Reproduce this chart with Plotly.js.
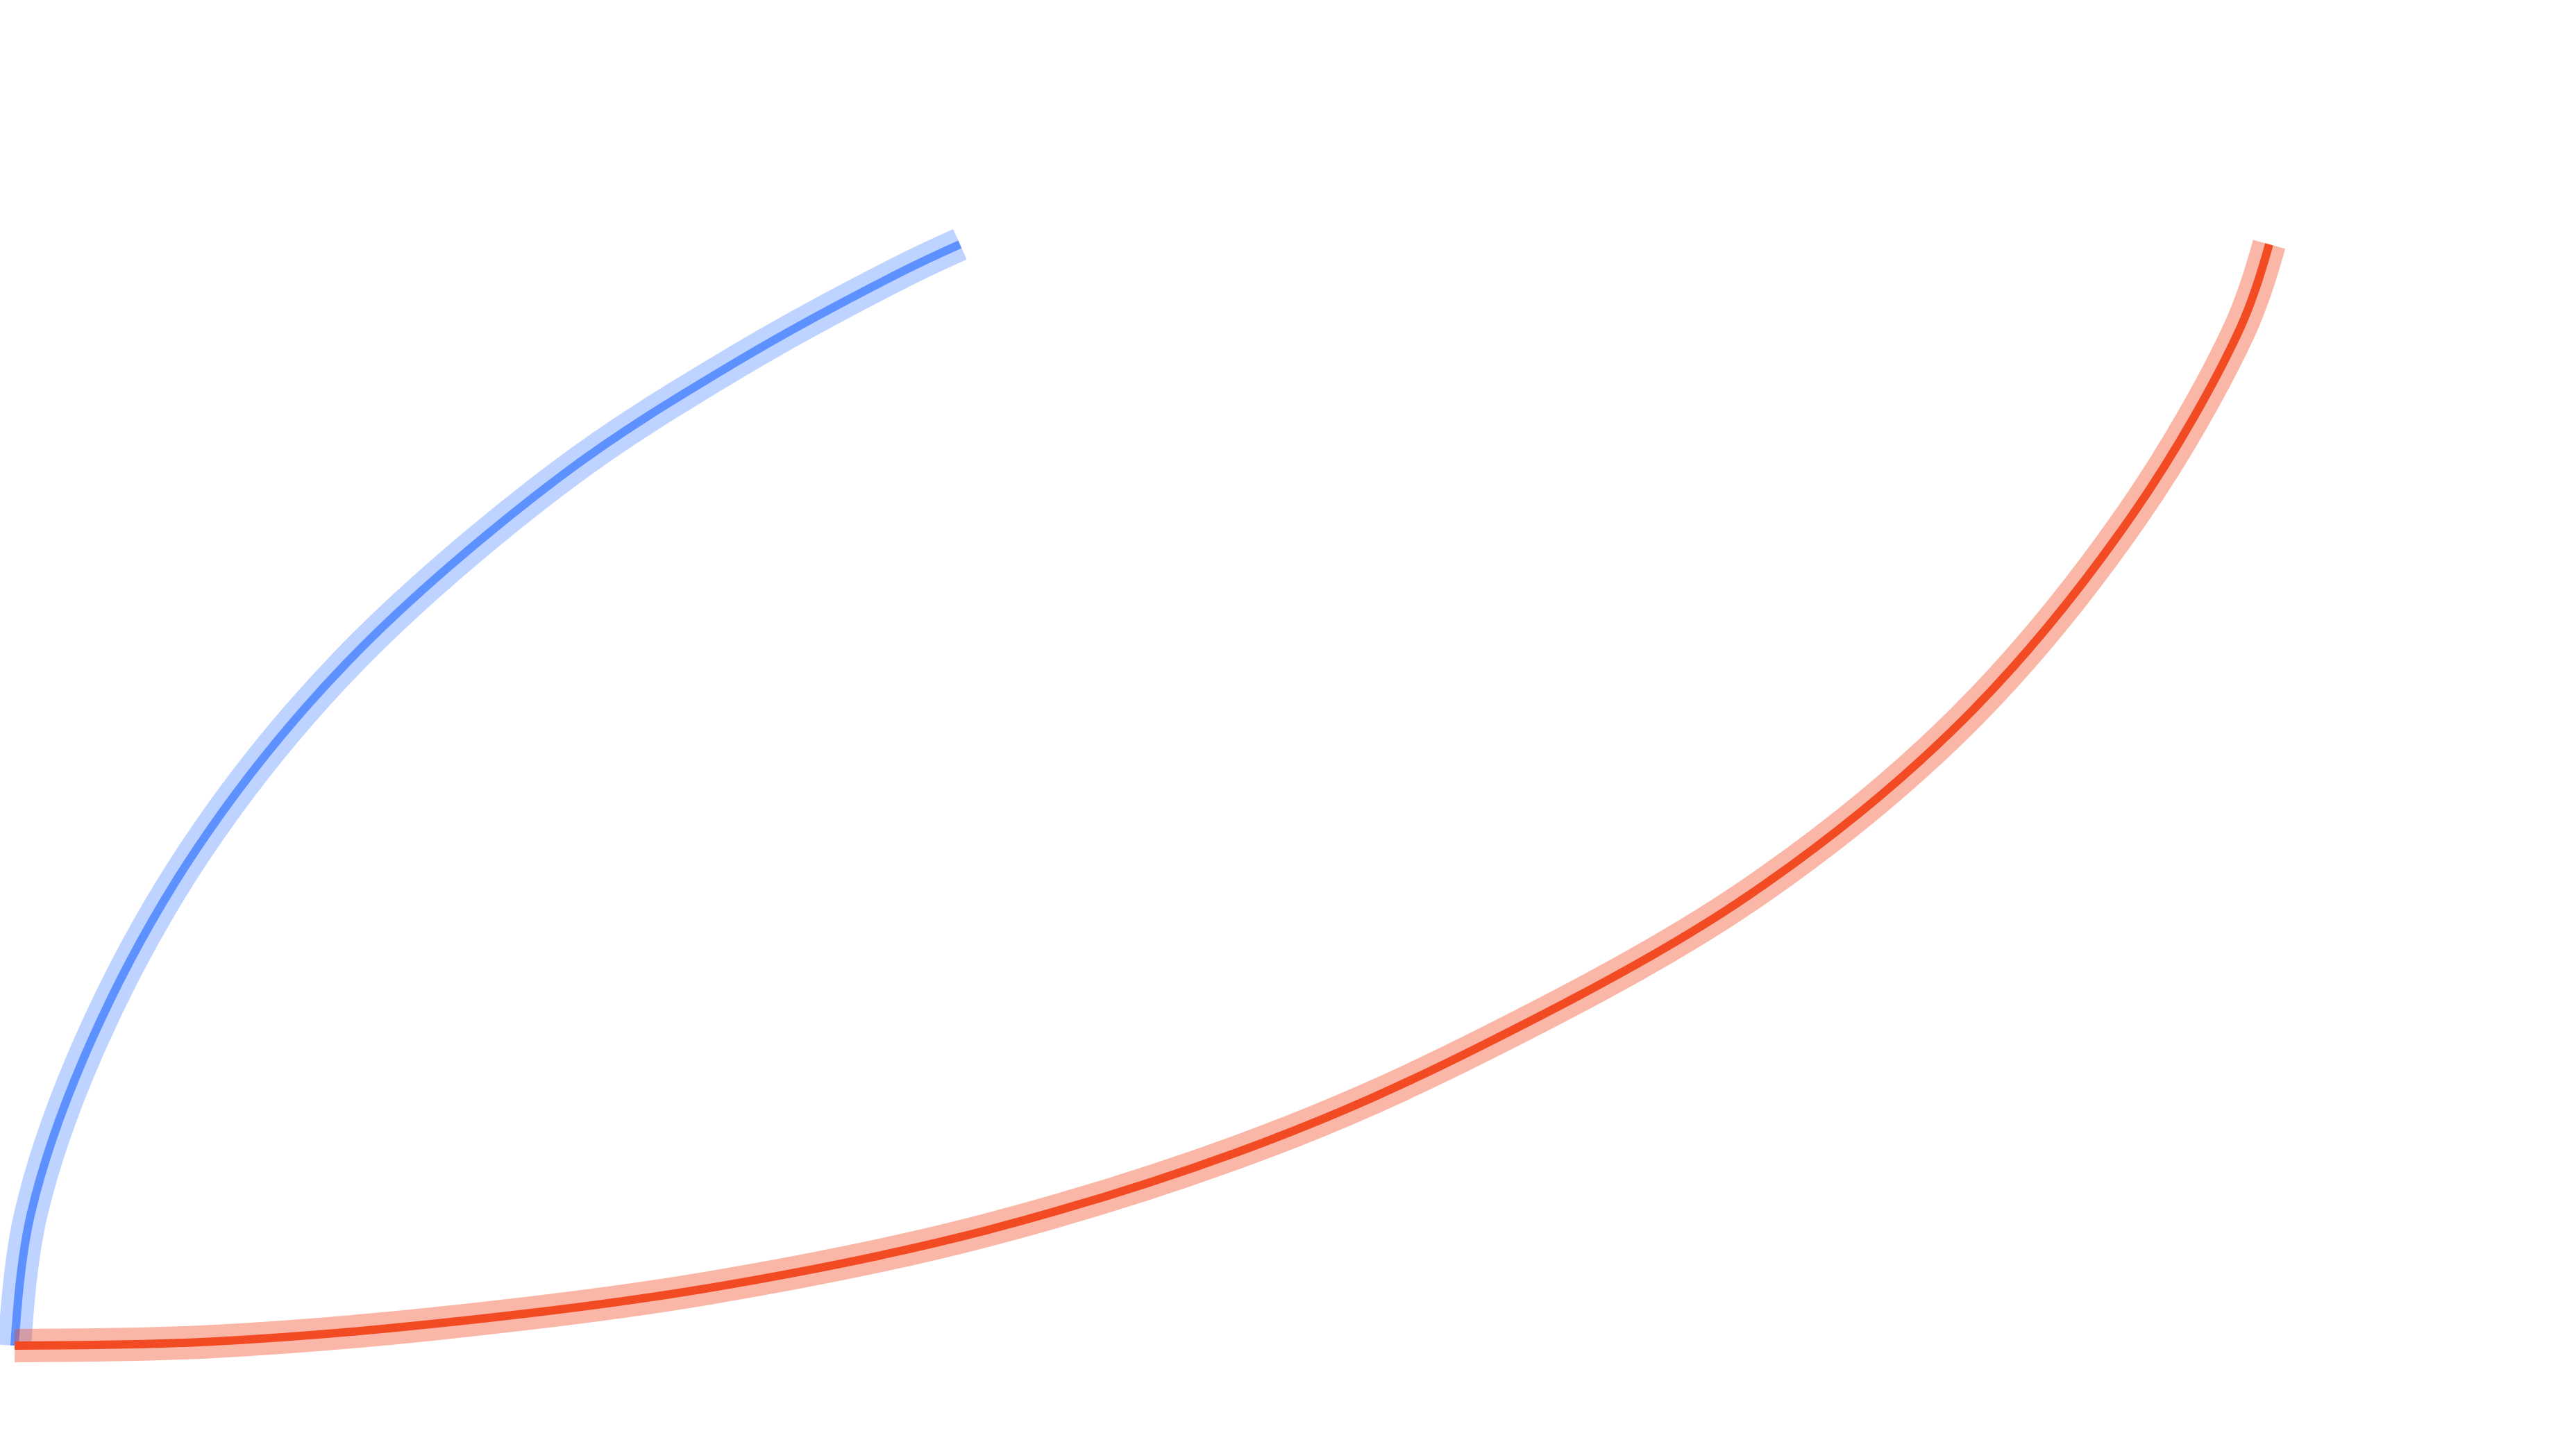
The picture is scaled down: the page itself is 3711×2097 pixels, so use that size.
<!DOCTYPE html>
<html>
<head>
<meta charset="utf-8">
<script src="https://cdn.plot.ly/plotly-3.0.1.min.js"></script>
<style>
  html, body { margin: 0; padding: 0; background: #ffffff; }
  #chart { width: 3711px; height: 2097px; }
</style>
</head>
<body>
<div id="chart"></div>
<script>
// Blue curve
const blueX = [0, 0.071, 0.339, 0.807, 1.466, 2.414, 3.214, 3.938, 4.193];
const blueY = [0, 1.185, 2.762, 4.508, 6.185, 7.881, 8.947, 9.754, 10.000];

// Red curve
const redX = [0, 0.859, 1.847, 3.079, 4.310, 5.542, 6.502, 7.694, 8.642, 9.397, 9.871, 10.000];
const redY = [0, 0.035, 0.195, 0.523, 1.047, 1.847, 2.718, 4.092, 5.681, 7.554, 9.237, 10.000];

const BLUE = 'rgb(92,145,255)';
const RED = 'rgb(242,74,35)';

function band(x, y, color) {
  return { type: 'scatter', mode: 'lines', x: x, y: y, hoverinfo: 'skip',
           opacity: 0.4, line: { color: color, width: 48, shape: 'spline', smoothing: 1, simplify: false } };
}
function thin(x, y, color) {
  return { type: 'scatter', mode: 'lines', x: x, y: y, hoverinfo: 'skip',
           line: { color: color, width: 12, shape: 'spline', smoothing: 1, simplify: false } };
}

const data = [
  band(blueX, blueY, BLUE),
  thin(blueX, blueY, BLUE),
  band(redX, redY, RED),
  thin(redX, redY, RED)
];

const layout = {
  width: 3711, height: 2097,
  margin: { l: 0, r: 0, t: 0, b: 0, pad: 0 },
  paper_bgcolor: '#ffffff', plot_bgcolor: '#ffffff',
  showlegend: false,
  xaxis: { visible: false, range: [-0.0647, 11.361], fixedrange: true },
  yaxis: { visible: false, range: [-1.0025, 12.219], fixedrange: true }
};

Plotly.newPlot('chart', data, layout, { staticPlot: true, displayModeBar: false });
</script>
</body>
</html>
